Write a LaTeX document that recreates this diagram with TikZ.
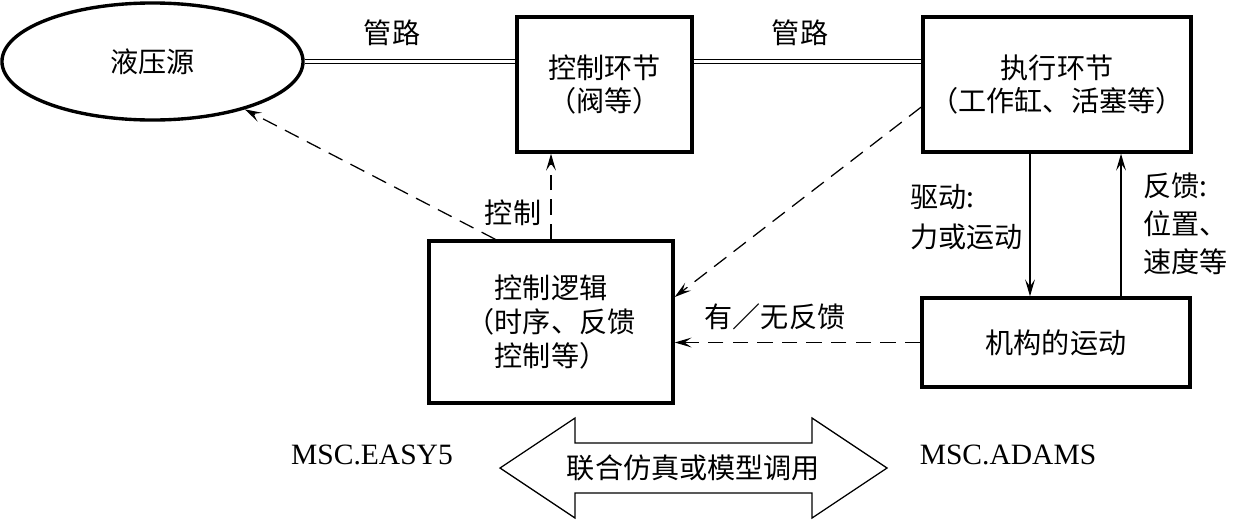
\documentclass[tikz,border=0pt]{standalone}
\usepackage{fontspec}
\setmainfont{Liberation Serif}
\newfontfamily\cjk{Noto Sans CJK SC}
\usetikzlibrary{shapes.geometric, arrows.meta}
\usetikzlibrary{calc}
\newcommand{\cnfont}{\cjk\fontsize{20pt}{24pt}\selectfont}
\newcommand{\enfont}{\fontsize{21pt}{24pt}\selectfont}
\tikzstyle{source} = [ellipse, minimum width=7.525cm, minimum height=2.925cm, inner sep=0pt, line width=2.4pt, draw=black, font=\cnfont]
\tikzstyle{unit} = [rectangle, inner sep=0pt, line width=2.4pt, align=center, draw=black, font=\cnfont]
\tikzstyle{lbl} = [inner sep=0pt, align=left, font=\cnfont]
\tikzstyle{pipe} = [double, double distance=1.8pt, line width=0.9pt]
\tikzstyle{arrow} = [->, >={Stealth[length=12pt, width=7pt, inset=5pt]}, line width=0.9pt]
\tikzstyle{dasharrow} = [arrow, dash pattern=on 11pt off 6.5pt]

\begin{document}
\begin{tikzpicture}[x=0.025cm, y=-0.025cm]
\useasboundingbox (0,0) rectangle (1241,520);
%各环节
\node (src) [source] at (152.5,61.5) {液压源};
\node (ctrl) [unit, minimum width=4.375cm, minimum height=3.375cm] at (604.5,84.5) {控制环节\\（阀等）};
\node (exec) [unit, minimum width=6.7cm, minimum height=3.375cm] at (1057,84.5) {执行环节\\（工作缸、活塞等）};
\node (logic) [unit, minimum width=6.1cm, minimum height=4.05cm] at (551,322) {控制逻辑\\（时序、反馈\\控制等）};
\node (mech) [unit, minimum width=6.7cm, minimum height=2.225cm] at (1056,342.5) {机构的运动};

%文字标注
\node (pipeA) [lbl] at (392,33) {管路};
\node (pipeB) [lbl] at (800,33) {管路};
\node (ctrllbl) [lbl] at (513,213) {控制};
\node (fbsel) [lbl] at (775,317) {有／无反馈};
\node (drive) [lbl, anchor=west] at (910,217) {驱动:\\[4pt]力或运动};
\node (fback) [lbl, anchor=west] at (1143,223.5) {反馈:\\[3pt]位置、\\[3pt]速度等};

%连接
\draw [pipe] (src.east) -- (src.east -| ctrl.west);
\draw [pipe] (ctrl.east |- src.east) -- (exec.west |- src.east);
\draw [dasharrow] ([xshift=1.7cm]logic.north west) -- (src);
\draw [dasharrow] (logic.north) -- (logic.north |- ctrl.south);
\draw [dasharrow] ([yshift=-0.5625cm]exec.west) -- ([yshift=0.625cm]logic.east);
\draw [dasharrow] (mech.west) -- (mech.west -| logic.east);
\draw [arrow] ([xshift=-0.675cm]exec.south) -- ([xshift=-0.675cm]exec.south |- mech.north);
\draw [arrow] ([xshift=1.6cm]exec.south |- mech.north) -- ([xshift=1.6cm]exec.south);

%联合仿真
\draw [line width=0.9pt] (500,468) -- (575,418) -- (575,443) -- (812,443) -- (812,418) -- (887,468)
  -- (812,518) -- (812,493) -- (575,493) -- (575,518) -- cycle;
\node (cosim) [lbl] at (693.5,468) {联合仿真或模型调用};
\node (easy) [inner sep=0pt, font=\enfont] at (372,455) {MSC.EASY5};
\node (adams) [inner sep=0pt, font=\enfont] at (1008,455) {MSC.ADAMS};
\end{tikzpicture}
\end{document}
